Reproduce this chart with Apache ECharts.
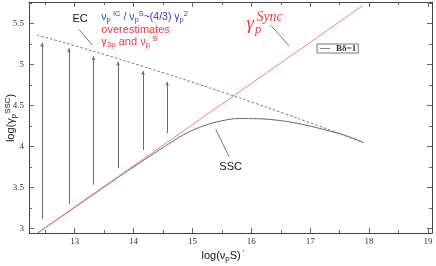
<!DOCTYPE html>
<html><head><meta charset="utf-8">
<script src="https://cdn.jsdelivr.net/npm/echarts@6/dist/echarts.min.js"></script>
<style>html,body{margin:0;padding:0;background:#fff}#c{width:436px;height:266px}</style>
</head><body><div id="c"></div>
<script>
// ---- data ----
const xMajorTicks = [13, 14, 15, 16, 17, 18, 19];
const xMinorTicks = [12.5, 13.5, 14.5, 15.5, 16.5, 17.5, 18.5];
const yMajorTicks = [3, 3.5, 4, 4.5, 5, 5.5];
const yMinorTicks = [3.25, 3.75, 4.25, 4.75, 5.25, 5.75];

const syncX = [12.366, 17.896];
const syncY = [2.948, 5.72];

const ecX = [12.36, 12.8, 13.3, 13.8, 14.3, 14.8, 15.3, 15.8, 16.3, 16.8, 17.3, 17.9];
const ecY = [5.361, 5.271, 5.166, 5.058, 4.946, 4.832, 4.714, 4.594, 4.470, 4.342, 4.212, 4.051];

const sscX = [12.366, 12.9, 13.4, 13.9, 14.3, 14.6, 14.9, 15.2, 15.5, 15.8, 16.1, 16.4, 16.7, 17.0, 17.3, 17.6, 17.9];
const sscY = [2.945, 3.21, 3.458, 3.705, 3.895, 4.035, 4.165, 4.255, 4.315, 4.342, 4.340, 4.325, 4.295, 4.25, 4.195, 4.135, 4.05];

const arrowX = [12.445, 12.90, 13.32, 13.735, 14.16, 14.57];
const arrowFrom = [3.118, 3.304, 3.535, 3.738, 3.960, 4.163];
const arrowTo = [5.264, 5.196, 5.102, 5.033, 4.920, 4.790];

const leaderEC = [[13.073, 5.427], [13.30, 5.236]];
const leaderSync = [[16.329, 5.479], [16.64, 5.227]];
const leaderSSC = [[15.395, 4.211], [15.621, 3.878]];

const legendName = 'Bδ=1';

// ---- chart ----
const XMIN = 12.224, XMAX = 19.068, YMIN = 2.948, YMAX = 5.762;
const AX = '#444';
const chart = echarts.init(document.getElementById('c'), null, {renderer: 'canvas'});

function xAx(pos, ticks, len, labels) {
  return {
    type: 'value', min: XMIN, max: XMAX, position: pos, offset: 0,
    axisLine: {show: labels, lineStyle: {color: AX, width: 1}},
    axisTick: {show: true, inside: true, length: len, customValues: ticks, lineStyle: {color: '#666', width: 1}},
    axisLabel: labels ? {show: true, customValues: ticks, fontFamily: 'Liberation Serif', fontSize: 9, color: '#333', margin: 4} : {show: false},
    splitLine: {show: false}
  };
}
function yAx(pos, ticks, len, labels) {
  return {
    type: 'value', min: YMIN, max: YMAX, position: pos, offset: 0,
    axisLine: {show: labels, lineStyle: {color: AX, width: 1}},
    axisTick: {show: true, inside: true, length: len, customValues: ticks, lineStyle: {color: '#666', width: 1}},
    axisLabel: labels ? {show: true, customValues: ticks, fontFamily: 'Liberation Serif', fontSize: 9, color: '#333', margin: 5} : {show: false},
    splitLine: {show: false}
  };
}

const zip = (xs, ys) => xs.map((x, i) => [x, ys[i]]);
const arrowData = arrowX.map((x, i) => [{coord: [x, arrowFrom[i]]}, {coord: [x, arrowTo[i]]}]);
const leaderData = [leaderEC, leaderSync, leaderSSC].map(l => [{coord: l[0]}, {coord: l[1]}]);

chart.setOption({
  animation: false,
  grid: {left: 29, right: 4, top: 2, bottom: 33, outerBoundsMode: 'none', containLabel: false},
  legend: {
    data: [legendName], left: 317, top: 44, orient: 'horizontal',
    borderColor: '#777', borderWidth: 1, padding: [0, 2, 0, 3],
    icon: 'rect', itemWidth: 10, itemHeight: 1, itemGap: 2,
    textStyle: {fontFamily: 'Liberation Serif', fontSize: 9, fontWeight: 'bold', color: '#333', padding: [0, 0, 0, 1]},
    selectedMode: false
  },
  xAxis: [
    xAx('bottom', xMajorTicks, 5, true),
    xAx('bottom', xMinorTicks, 3, false),
    {...xAx('top', xMajorTicks, 5, false), axisLine: {show: true, lineStyle: {color: AX}}},
    xAx('top', xMinorTicks, 3, false)
  ],
  yAxis: [
    yAx('left', yMajorTicks, 5, true),
    yAx('left', yMinorTicks, 3, false),
    {...yAx('right', yMajorTicks, 5, false), axisLine: {show: true, lineStyle: {color: AX}}},
    yAx('right', yMinorTicks, 3, false)
  ],
  series: [
    {
      name: 'sync', type: 'line', xAxisIndex: 0, yAxisIndex: 0, data: zip(syncX, syncY),
      symbol: 'none', lineStyle: {color: '#ff7a85', width: 1}, silent: true, z: 3
    },
    {
      name: 'EC', type: 'line', xAxisIndex: 0, yAxisIndex: 0, data: zip(ecX, ecY),
      symbol: 'none', smooth: 0.3, lineStyle: {color: '#6a6a6a', width: 0.9, type: [2.5, 2]}, silent: true
    },
    {
      name: legendName, type: 'line', xAxisIndex: 0, yAxisIndex: 0, data: zip(sscX, sscY),
      symbol: 'none', smooth: 0.4, itemStyle: {color: '#8a8a8a'}, lineStyle: {color: '#666', width: 1}, silent: true, z: 2,
      markLine: {
        silent: true, symbol: ['none', 'arrow'], symbolSize: [3, 4],
        label: {show: false}, emphasis: {disabled: true},
        lineStyle: {color: '#6a6a6a', width: 1, type: 'solid'},
        data: arrowData
      }
    },
    {
      name: 'leaders', type: 'line', xAxisIndex: 0, yAxisIndex: 0, data: [],
      markLine: {
        silent: true, symbol: ['none', 'none'],
        label: {show: false}, emphasis: {disabled: true},
        lineStyle: {color: '#555', width: 0.8, type: 'solid'},
        data: leaderData
      }
    }
  ]
});

// ---- annotations (anchored in data units) ----
const px = (x, y) => chart.convertToPixel({seriesIndex: 0}, [x, y]);
const BLUE = '#2a3ad6', RED = '#ff3038';
function richSet(color, size) {
  return {
    n: {fontSize: size, fontFamily: 'Liberation Sans', fill: color, lineHeight: 14, verticalAlign: 'middle'},
    sb: {fontSize: size * 0.72, fontFamily: 'Liberation Sans', fill: color, lineHeight: 8, verticalAlign: 'bottom'},
    sp: {fontSize: size * 0.72, fontFamily: 'Liberation Sans', fill: color, lineHeight: 8, verticalAlign: 'top'}
  };
}
function txt(p, text, rich, align, extra) {
  return Object.assign({
    type: 'text', x: p[0], y: p[1], silent: true,
    style: {text: text, rich: rich, textAlign: align || 'left', textVerticalAlign: 'middle'}
  }, extra || {});
}
const ecP = px(13.093, 5.552);
const b1 = px(13.453, 5.580), b2 = px(13.453, 5.418), b3 = px(13.453, 5.276);
const sy = px(15.916, 5.491);
const sscP = px(15.649, 3.747);
const it = (size) => ({fontSize: size, fontFamily: 'Liberation Serif', fontStyle: 'italic', fill: RED});

chart.setOption({
  graphic: [
    txt(ecP, '{n|EC}', richSet('#111', 11), 'center'),
    txt(b1, '{n|ν}{sb|p}{sp| IC}{n| / ν}{sb|p}{sp|S}{n|~(4/3) γ}{sb|p}{sp|2}', richSet(BLUE, 10.5)),
    txt(b2, '{n|overestimates}', richSet(RED, 11)),
    txt(b3, '{n|γ}{sb|3p}{n| and ν}{sb|p}{sp| S}', richSet(RED, 11)),
    {type: 'text', x: sy[0], y: sy[1], silent: true, style: Object.assign({text: 'γ', textVerticalAlign: 'middle'}, it(19))},
    {type: 'text', x: sy[0] + 8.5, y: sy[1] + 5, silent: true, style: Object.assign({text: 'p', textVerticalAlign: 'middle'}, it(12.5))},
    {type: 'text', x: sy[0] + 10, y: sy[1] - 7, silent: true, style: Object.assign({text: 'Sync', textVerticalAlign: 'middle'}, it(14))},
    txt(sscP, '{n|SSC}', richSet('#111', 11), 'center'),
    txt([11, 118], '{n|log(γ}{sb|p}{sp|SSC}{n|)}', richSet('#111', 11), 'center', {rotation: Math.PI / 2}),
    txt([223, 256], '{n|log(ν}{sb|p}{n|S)}{sp| \'}', richSet('#111', 11), 'center')
  ]
});
</script>
</body></html>
